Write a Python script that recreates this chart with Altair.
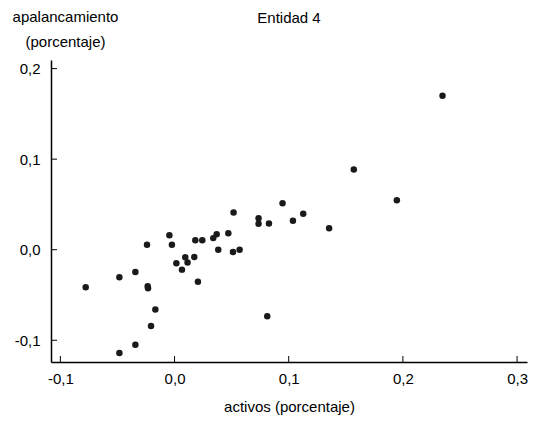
import altair as alt
import pandas as pd

# Scatter of asset growth vs. leverage change (Entidad 4)
activos = [
    -0.0778, -0.0483, -0.0483, -0.0343, -0.0343, -0.0241, -0.0235, -0.0232,
    -0.0206, -0.0168, -0.0045, -0.0023, 0.0016, 0.0065, 0.0094, 0.0114,
    0.0173, 0.0182, 0.0205, 0.0243, 0.0339, 0.0369, 0.0383, 0.0471,
    0.0517, 0.0512, 0.0570, 0.0736, 0.0736, 0.0827, 0.0812, 0.0946,
    0.1037, 0.1127, 0.1354, 0.1570, 0.1947, 0.2347,
]
apalancamiento = [
    -0.0414, -0.0304, -0.1140, -0.0245, -0.1050, 0.0055, -0.0403, -0.0425,
    -0.0843, -0.0660, 0.0160, 0.0055, -0.0150, -0.0220, -0.0084, -0.0140,
    -0.0080, 0.0105, -0.0355, 0.0105, 0.0128, 0.0172, 0.0000, 0.0183,
    0.0410, -0.0025, 0.0000, 0.0348, 0.0286, 0.0290, -0.0736, 0.0513,
    0.0319, 0.0396, 0.0238, 0.0887, 0.0546, 0.1700,
]
x_ticks = [-0.1, 0.0, 0.1, 0.2, 0.3]
y_ticks = [-0.1, 0.0, 0.1, 0.2]
panel_title = ["Entidad 4"]

FONT = "Liberation Sans"
FS = 15
W, H = 476, 302
X_DOMAIN = [-0.1082, 0.3087]
Y_DOMAIN = [-0.124, 0.2095]

pts = pd.DataFrame({"activos": activos, "apalancamiento": apalancamiento})
xt = pd.DataFrame({"v": x_ticks})
yt = pd.DataFrame({"v": y_ticks})
tt = pd.DataFrame({"t": panel_title})

label_expr = "replace(replace(format(datum.value, '.1f'), '.', ','), '\u2212', '-')"

x_scale = alt.Scale(domain=X_DOMAIN, nice=False, zero=False)
y_scale = alt.Scale(domain=Y_DOMAIN, nice=False, zero=False)

points = alt.Chart(pts).mark_circle(size=42, color="#1a1a1a", opacity=1).encode(
    x=alt.X(
        "activos:Q",
        scale=x_scale,
        axis=alt.Axis(
            values=x_ticks,
            labelExpr=label_expr,
            ticks=False,
            grid=False,
            labelPadding=9,
            title="activos (porcentaje)",
            titlePadding=13,
        ),
    ),
    y=alt.Y(
        "apalancamiento:Q",
        scale=y_scale,
        axis=alt.Axis(
            values=y_ticks,
            labelExpr=label_expr,
            ticks=False,
            grid=False,
            labelPadding=11,
            title=["apalancamiento", "(porcentaje)"],
            titleAngle=0,
            titleAlign="center",
            titleBaseline="top",
            titleX=14,
            titleY=-51,
            titleLineHeight=25,
        ),
    ),
)

# inward-pointing tick marks
x_tick_marks = alt.Chart(xt).mark_rule(color="black", strokeWidth=1).encode(
    x=alt.X("v:Q", scale=x_scale),
    y=alt.value(H),
    y2=alt.value(H - 6),
)
y_tick_marks = alt.Chart(yt).mark_rule(color="black", strokeWidth=1).encode(
    y=alt.Y("v:Q", scale=y_scale),
    x=alt.value(0),
    x2=alt.value(6),
)

# panel heading above the plot area
heading = alt.Chart(tt).mark_text(
    font=FONT, fontSize=FS, color="black", align="center", baseline="middle"
).encode(text="t:N", x=alt.value(W / 2), y=alt.value(-42))

chart = (
    alt.layer(points, x_tick_marks, y_tick_marks, heading)
    .properties(
        width=W,
        height=H,
        autosize=alt.AutoSizeParams(type="none"),
        padding={"left": 51, "top": 60, "right": 10, "bottom": 63},
    )
    .configure_view(stroke=None)
    .configure_axis(
        domainColor="black",
        domainWidth=1.5,
        labelFont=FONT,
        labelFontSize=FS,
        labelColor="black",
        titleFont=FONT,
        titleFontSize=FS,
        titleFontWeight="normal",
        titleColor="black",
    )
)

chart.save("out.html", embed_options={"renderer": "svg", "actions": False})
